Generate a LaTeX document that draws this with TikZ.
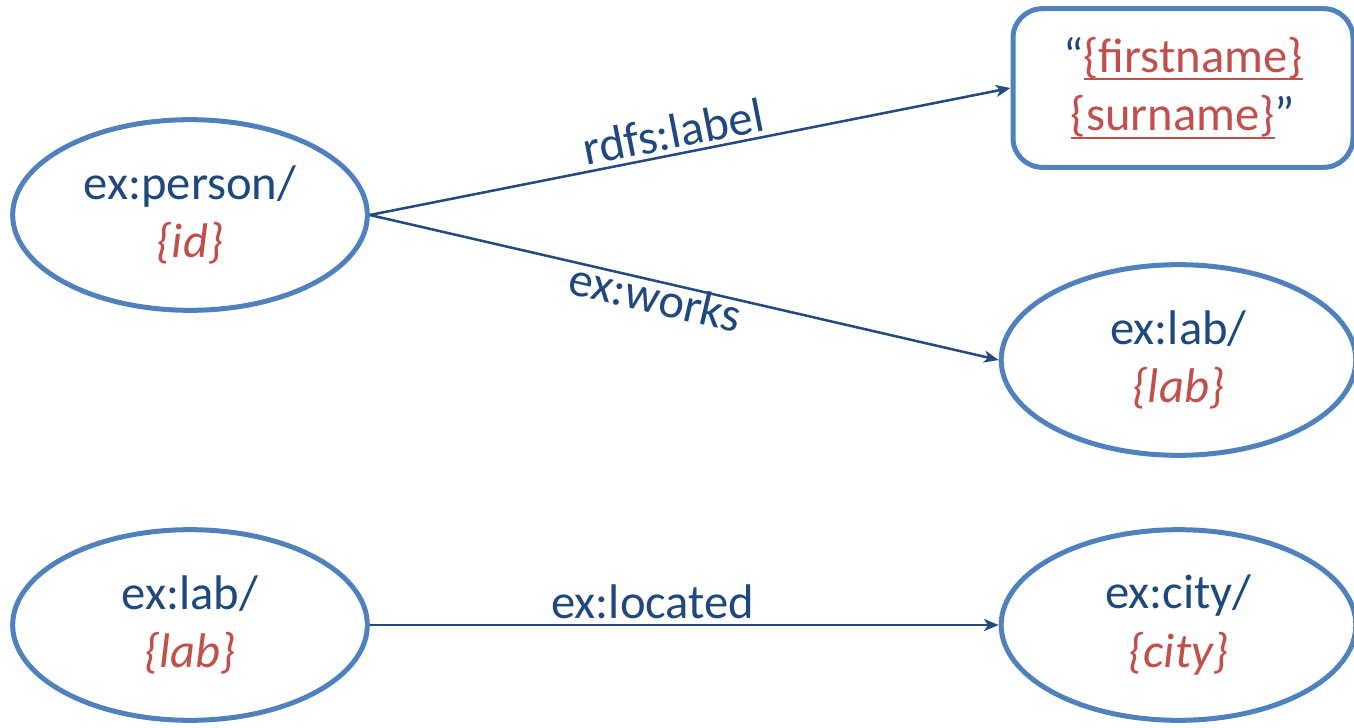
\documentclass[tikz,border=0pt]{standalone}
\usepackage{fontspec}
\setmainfont{Carlito}
\usetikzlibrary{positioning, shapes, arrows.meta}
\definecolor{rimblue}{HTML}{4F81BD}
\definecolor{textblue}{HTML}{1F497D}
\definecolor{arrowblue}{HTML}{234B82}
\definecolor{varred}{HTML}{C0504D}
\tikzset{font=\fontsize{36.5}{44}\selectfont}
\tikzstyle{res} = [draw=rimblue, ellipse, line width=3.75pt, inner sep=0pt, align=center, text=textblue, minimum width=266pt, minimum height=143pt]
\tikzstyle{lit} = [draw=rimblue, rectangle, rounded corners=22pt, line width=3.75pt, align=center, text=textblue, minimum width=255pt, minimum height=119pt]
\tikzstyle{edge} = [->, draw=arrowblue, line width=1.9pt, text=textblue]
\newcommand{\tmplvar}[1]{\textcolor{varred}{\textit{#1}}}
\newcommand{\tmplref}[1]{\textcolor{varred}{\setbox0\hbox{#1}\rlap{\rule[-6pt]{\wd0}{1.5pt}}\box0}}

\begin{document}
\begin{tikzpicture}[x=0.75pt, y=-0.75pt, >={Stealth[length=11pt, width=9pt, inset=3pt]}]
	\useasboundingbox (0,0) rectangle (1354,728);
	\node [res] (person) at (190,215) {ex:person/\\\tmplvar{\{id\}}};
	\node [lit] (name) at (1183,88) {“\tmplref{\{firstname\}}\\\tmplref{\{surname\}}”};
	\node [res] (labA) at (1178.5,360) {ex:lab/\\\tmplvar{\{lab\}}};
	\node [res] (labB) at (190,625) {ex:lab/\\\tmplvar{\{lab\}}};
	\node [res] (city) at (1178.5,625) {ex:city/\\\tmplvar{\{city\}}};

	\draw [edge] (person.east) -- node [sloped, above, pos=0.48] {rdfs:label} (name.west);
	\draw [edge] (person.east) -- node [sloped, below, pos=0.46, inner sep=0pt, yshift=2pt] {ex:works} (labA.west);
	\draw [edge] (labB) -- node [above, pos=0.45] {ex:located} (city);
\end{tikzpicture}
\end{document}
